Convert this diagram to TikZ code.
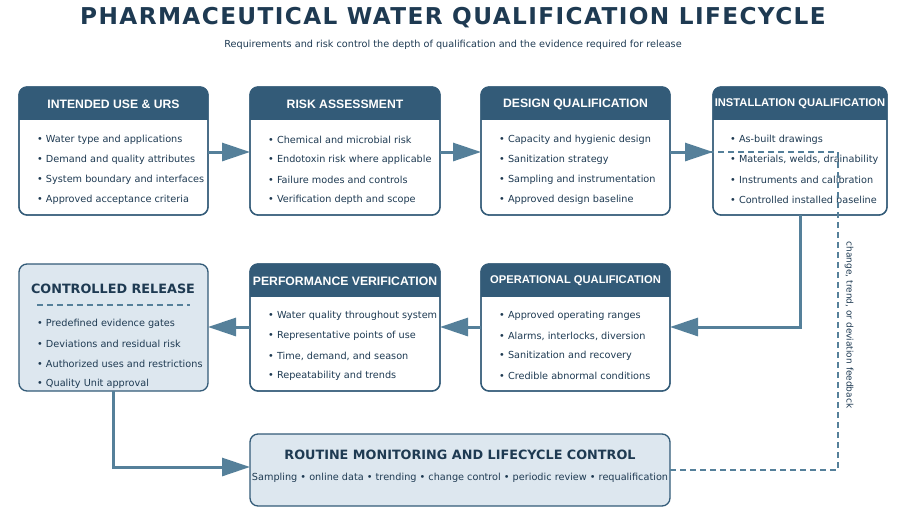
\documentclass[tikz,border=0pt]{standalone}
\usepackage{fontspec}
\setmainfont{DejaVu Sans}
\newfontfamily\hdrfont{Liberation Sans}
\usetikzlibrary{arrows.meta,positioning}
\definecolor{hdr}{HTML}{335B78}
\definecolor{ink}{HTML}{1E3A52}
\definecolor{flow}{HTML}{55809A}
\definecolor{pale}{HTML}{DDE7EF}
\tikzset{
  body/.style={draw=hdr, line width=1.3pt, rounded corners=8pt, fill=white},
  head/.style={text=white, font=\hdrfont\bfseries\fontsize{12.2}{14}\selectfont},
  item/.style={anchor=west, text=ink, font=\fontsize{9.7}{11}\selectfont, inner sep=0pt},
  flowarrow/.style={draw=flow, line width=3pt, -{Triangle[length=28pt,width=18pt]}},
  feedback/.style={draw=flow, line width=1.3pt, dash pattern=on 6pt off 4pt}
}
% stage box: name, left, top, right, bottom, title
\newcommand{\stagebox}[6]{
  \path[body] (#2,#3) rectangle (#4,#5);
  \begin{scope}
    \clip[rounded corners=8pt] (#2,#3) rectangle (#4,#5);
    \fill[hdr] (#2,#3) rectangle (#4,#3+33);
  \end{scope}
  \draw[hdr, line width=1.3pt, rounded corners=8pt] (#2,#3) rectangle (#4,#5);
  \node[head] (#1-t) at ({(#2+#4)/2},#3+17) {#6};
  \coordinate (#1) at ({(#2+#4)/2},{(#3+#5)/2});
}
\begin{document}
\begin{tikzpicture}[x=1pt,y=-1pt]
\useasboundingbox (0,0) rectangle (900,520);

\node[text=ink, font=\bfseries\fontsize{23.2}{26}\selectfont\addfontfeatures{LetterSpace=6}] (title) at (453,18)
  {PHARMACEUTICAL WATER QUALIFICATION LIFECYCLE};
\node[text=ink, font=\fontsize{9.7}{11}\selectfont] (subtitle) at (453,45)
  {Requirements and risk control the depth of qualification and the evidence required for release};

% top row
\stagebox{urs}{19}{87}{208}{215}{INTENDED USE \& URS}
\stagebox{ra}{250}{87}{440}{215}{RISK ASSESSMENT}
\stagebox{dq}{481}{87}{670}{215}{DESIGN QUALIFICATION}
\stagebox{iq}{713}{87}{887}{215}{\fontsize{11.2}{13}\selectfont INSTALLATION QUALIFICATION}
% middle row
\stagebox{pv}{250}{264}{440}{391}{PERFORMANCE VERIFICATION}
\stagebox{oq}{481}{264}{670}{391}{\fontsize{11.2}{13}\selectfont OPERATIONAL QUALIFICATION}

\foreach \x/\lst in {
  37/{Water type and applications,Demand and quality attributes,System boundary and interfaces,Approved acceptance criteria},
  268/{Chemical and microbial risk,Endotoxin risk where applicable,Failure modes and controls,Verification depth and scope},
  499/{Capacity and hygienic design,Sanitization strategy,Sampling and instrumentation,Approved design baseline},
  730/{As-built drawings,{Materials, welds, drainability},Instruments and calibration,Controlled installed baseline}}
  \foreach \t [count=\k] in \lst
    \node[item] at (\x,120+20*\k) {\textbullet\ \t};

\foreach \x/\lst in {
  268/{Water quality throughout system,Representative points of use,{Time, demand, and season},Repeatability and trends},
  499/{Approved operating ranges,{Alarms, interlocks, diversion},Sanitization and recovery,Credible abnormal conditions}}
  \foreach \t [count=\k] in \lst
    \node[item] at (\x,296+20*\k) {\textbullet\ \t};

% controlled release
\draw[body, fill=pale] (19,264) rectangle (208,391);
\coordinate (cr) at (113,327);
\node[text=ink, font=\bfseries\fontsize{12.8}{14}\selectfont] (cr-t) at (113,289) {CONTROLLED RELEASE};
\draw[flow, line width=1.2pt, dash pattern=on 6pt off 4pt] (37,305) -- (190,305);
\foreach \t [count=\k] in {Predefined evidence gates,Deviations and residual risk,Authorized uses and restrictions,Quality Unit approval}
  \node[item] at (37,304+20*\k) {\textbullet\ \t};

% routine monitoring
\draw[body, fill=pale] (250,434) rectangle (670,506);
\coordinate (rm) at (460,470);
\node[text=ink, font=\bfseries\fontsize{12.8}{14}\selectfont] (rm-t) at (460,455) {ROUTINE MONITORING AND LIFECYCLE CONTROL};
\node[text=ink, font=\fontsize{9.7}{11}\selectfont] (rm-s) at (460,478)
  {Sampling \textbullet\ online data \textbullet\ trending \textbullet\ change control \textbullet\ periodic review \textbullet\ requalification};

% flow
\coordinate (urs-e) at (208,152); \coordinate (ra-w) at (250,152);
\coordinate (ra-e) at (440,152);  \coordinate (dq-w) at (481,152);
\coordinate (dq-e) at (670,152);  \coordinate (iq-w) at (713,152);
\coordinate (iq-s) at (800,215);  \coordinate (oq-e) at (670,327);
\coordinate (oq-w) at (481,327);  \coordinate (pv-e) at (440,327);
\coordinate (pv-w) at (250,327);  \coordinate (cr-e) at (208,327);
\coordinate (cr-s) at (113,391);  \coordinate (rm-w) at (250,467);
\draw[flowarrow] (urs-e) -- (ra-w);
\draw[flowarrow] (ra-e) -- (dq-w);
\draw[flowarrow] (dq-e) -- (iq-w);
\draw[flowarrow] (iq-s) |- (oq-e);
\draw[flowarrow] (oq-w) -- (pv-e);
\draw[flowarrow] (pv-w) -- (cr-e);
\draw[flowarrow] (cr-s) |- (rm-w);

% feedback loop
\coordinate (rm-e) at (670,470);
\coordinate (fb) at (690,152);
\draw[feedback] (rm-e) -| (838,152) -- (fb);
\node[rotate=-90, text=ink, font=\fontsize{9}{10}\selectfont] (fb-l) at (849,325) {change, trend, or deviation feedback};
\end{tikzpicture}
\end{document}
